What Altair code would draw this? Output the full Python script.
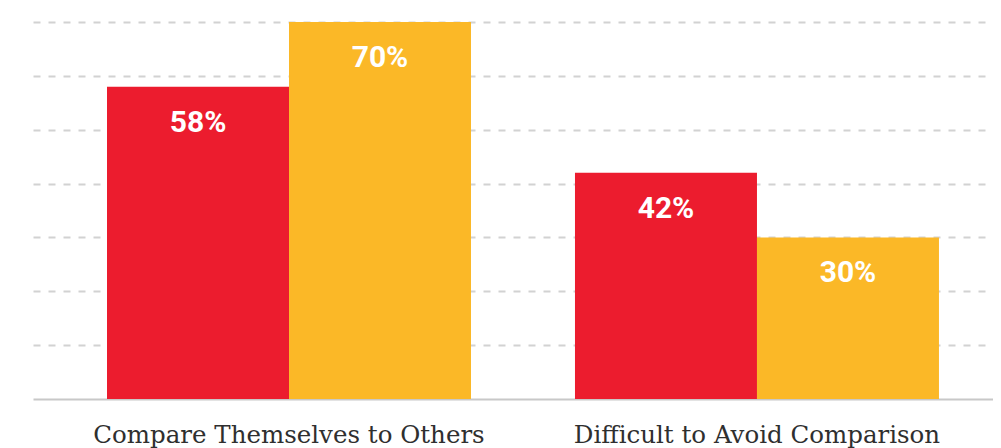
import altair as alt
import pandas as pd

categories = ["Compare Themselves to Others", "Compare Themselves to Others",
              "Difficult to Avoid Comparison", "Difficult to Avoid Comparison"]
series = ["Group A", "Group B", "Group A", "Group B"]
values = [58, 70, 42, 30]
labels = ["58%", "70%", "42%", "30%"]
grid_ticks = [10, 20, 30, 40, 50, 60, 70]
series_order = ["Group A", "Group B"]
series_colors = ["#EC1C2E", "#FBB827"]

df = pd.DataFrame({"category": categories, "series": series,
                   "value": values, "label": labels})

x_scale = alt.Scale(paddingInner=0.2222, paddingOuter=0.1368, align=0.578)
x_enc = alt.X("category:N", title=None, scale=x_scale,
              axis=alt.Axis(labelAngle=0, labelFont="DejaVu Serif", labelFontSize=24.5,
                            labelColor="#2f2f2f", labelPadding=24, ticks=False, grid=False,
                            domainColor="#c8c8c8", domainWidth=2, labelLimit=600))
xo = alt.XOffset("series:N", sort=series_order, scale=alt.Scale(paddingInner=0, paddingOuter=0))
y_enc = alt.Y("value:Q", title=None,
              scale=alt.Scale(domain=[0, 70], nice=False),
              axis=alt.Axis(values=grid_ticks, labels=False, ticks=False, domain=False,
                            grid=True, gridColor="#d2d2d2", gridWidth=2, gridDash=[7, 8]))

base = alt.Chart(df).encode(x=x_enc, xOffset=xo, y=y_enc)

bars = base.mark_bar().encode(
    color=alt.Color("series:N", sort=series_order,
                    scale=alt.Scale(domain=series_order, range=series_colors), legend=None),
)

text = base.mark_text(font="Roboto", fontWeight="bold", fontSize=30,
                      color="white", baseline="middle", dy=36).encode(text="label:N")

chart = (bars + text).properties(
    width=960, height=377,
    background="white",
    autosize=alt.AutoSizeParams(type="none"),
    padding={"left": 25, "top": 14, "right": 0, "bottom": 49},
).configure_view(stroke="transparent", strokeWidth=0)

chart.save("out.html", embed_options={"renderer": "svg", "actions": False})
